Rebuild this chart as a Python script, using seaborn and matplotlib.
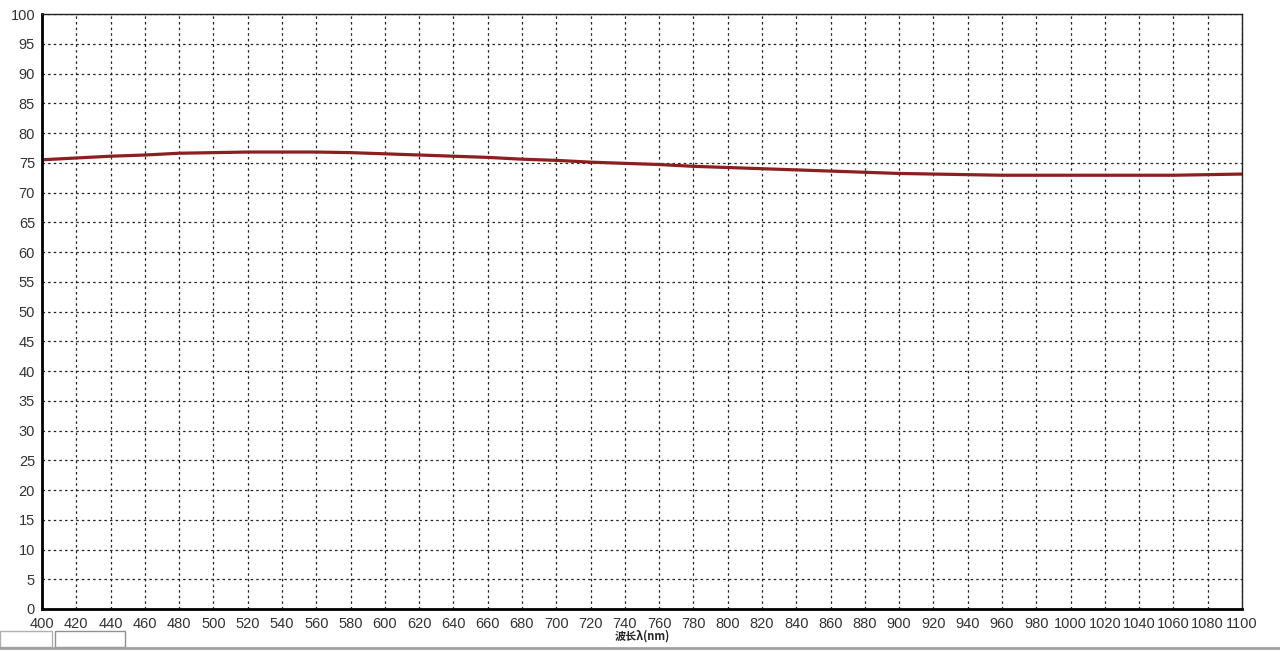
import numpy as np
import pandas as pd
import matplotlib
matplotlib.use("Agg")
import matplotlib.pyplot as plt
import seaborn as sns
from matplotlib.ticker import MultipleLocator
from matplotlib.lines import Line2D
from matplotlib.patches import Rectangle

# Transmittance curve (every 20 nm)
wavelength = [400, 420, 440, 460, 480, 500, 520, 540, 560, 580, 600, 620,
              640, 660, 680, 700, 720, 740, 760, 780, 800, 820, 840, 860,
              880, 900, 920, 940, 960, 980, 1000, 1020, 1040, 1060, 1080, 1100]
transmit = [75.5, 75.8, 76.1, 76.3, 76.6, 76.7, 76.8, 76.8, 76.8, 76.7, 76.5, 76.3,
            76.1, 75.9, 75.6, 75.4, 75.1, 74.9, 74.7, 74.4, 74.2, 74.0, 73.8, 73.6,
            73.4, 73.2, 73.1, 73.0, 72.9, 72.9, 72.9, 72.9, 72.9, 72.9, 73.0, 73.1]
x_label = "波长λ(nm)"

df = pd.DataFrame({"wl": wavelength, "T": transmit})

sns.set_style("white")
plt.rcParams["font.family"] = ["Liberation Sans", "DejaVu Sans"]

fig = plt.figure(figsize=(12.8, 6.52), dpi=100)
ax = fig.add_axes([42 / 1280, 43 / 652, 1200 / 1280, 595 / 652])

sns.lineplot(data=df, x="wl", y="T", ax=ax, color="#8c1f1f", linewidth=2.3)

ax.set_xlim(400, 1100)
ax.set_ylim(0, 100)
ax.xaxis.set_major_locator(MultipleLocator(20))
ax.xaxis.set_minor_locator(MultipleLocator(5))
ax.yaxis.set_major_locator(MultipleLocator(5))
ax.grid(True, which="major", color="#222222", linestyle=(0, (2, 2.5)), linewidth=0.9)

for side in ["top", "right"]:
    ax.spines[side].set_linewidth(1.0)
    ax.spines[side].set_color("#222222")
for side in ["left", "bottom"]:
    ax.spines[side].set_linewidth(2.0)
    ax.spines[side].set_color("black")

ax.tick_params(axis="x", which="major", direction="inout", length=7, width=1,
               labelsize=10.5, pad=2, labelcolor="#333333")
ax.tick_params(axis="x", which="minor", direction="in", length=3, width=0.8)
ax.tick_params(axis="y", which="major", direction="out", length=4, width=1,
               labelsize=10.5, pad=1, labelcolor="#333333")

ax.set_xlabel(x_label, fontsize=8, fontweight="bold", labelpad=-1,
              family=["Noto Sans CJK SC", "DejaVu Sans"])
ax.set_ylabel("")

# window chrome along the bottom of the screenshot
fig.add_artist(Line2D([0, 1], [4 / 652, 4 / 652], color="#a0a0a0", linewidth=2))
fig.add_artist(Rectangle((0, 5 / 652), 52 / 1280, 16 / 652, fill=False,
                         edgecolor="#b0b0b0", linewidth=1))
fig.add_artist(Rectangle((55 / 1280, 5 / 652), 70 / 1280, 16 / 652, fill=False,
                         edgecolor="#909090", linewidth=1))

fig.savefig("out.png", dpi=100)
